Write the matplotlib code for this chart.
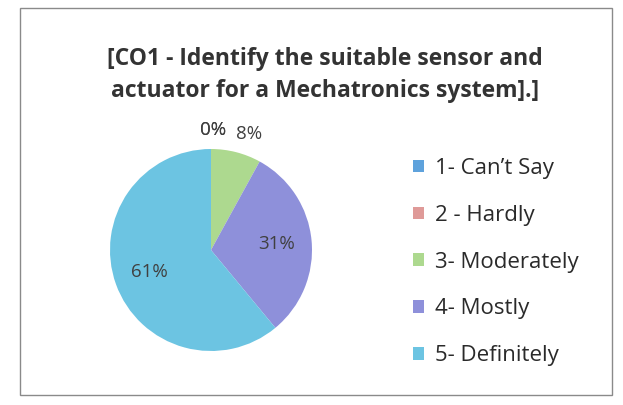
import numpy as np
import matplotlib
matplotlib.use("Agg")
import matplotlib.pyplot as plt
from matplotlib.patches import Rectangle

# survey answers (percent of responses)
categories = ["1- Can\u2019t Say", "2 - Hardly", "3- Moderately", "4- Mostly", "5- Definitely"]
values = [0, 0, 8, 31, 61]
pct_labels = ["0%", "0%", "8%", "31%", "61%"]
colors = ["#5ea2dc", "#df9a98", "#add98f", "#8e90da", "#6cc4e2"]

title = "[CO1 - Identify the suitable sensor and\nactuator for a Mechatronics system].]"

W, H = 623, 405
fig = plt.figure(figsize=(W / 100, H / 100), dpi=100)
fig.patch.set_facecolor("white")

# chart frame
fig.patches.append(Rectangle((20 / W, 1 - 395 / H), 592 / W, 387 / H,
                             transform=fig.transFigure, fill=False,
                             edgecolor="#8a8a8a", linewidth=1.0))

cx, cy, r = 211, 250, 101
ax = fig.add_axes([(cx - r) / W, (H - cy - r) / H, 2 * r / W, 2 * r / H])
wedges, _ = ax.pie(values, colors=colors, startangle=90, counterclock=False,
                   radius=1.0, wedgeprops=dict(linewidth=0))
ax.set_xlim(-1, 1)
ax.set_ylim(-1, 1)
ax.set_aspect("equal")
ax.axis("off")

# percentage labels at slice middles
total = float(sum(values))
start = 90.0
for v, lab in zip(values, pct_labels):
    span = v / total * 360.0
    mid = np.deg2rad(start - span / 2)
    start -= span
    if v < 10:
        dist = 1.19
        dx = 0.02 if v == 0 else 0.08
    else:
        dist = 0.65
        dx = 0.0
    ax.text(dist * np.cos(mid) + dx, dist * np.sin(mid), lab,
            ha="center", va="center", fontsize=13.5, color="#404040",
            family="Open Sans", clip_on=False)

fig.text(325 / W, 1 - 75 / H, title, ha="center", va="center",
         fontsize=16.5, fontweight="bold", family="Open Sans",
         color="#333333", linespacing=1.4)

leg = fig.legend(wedges, categories, loc="upper left",
                 bbox_to_anchor=(413 / W, 1 - 158 / H), frameon=False,
                 prop={"family": "Open Sans", "size": 16},
                 handlelength=0.5, handleheight=0.5, handletextpad=0.5,
                 labelspacing=1.16, borderaxespad=0, borderpad=0)
for t in leg.get_texts():
    t.set_color("#2a2a2a")

fig.savefig("out.png", dpi=100)
